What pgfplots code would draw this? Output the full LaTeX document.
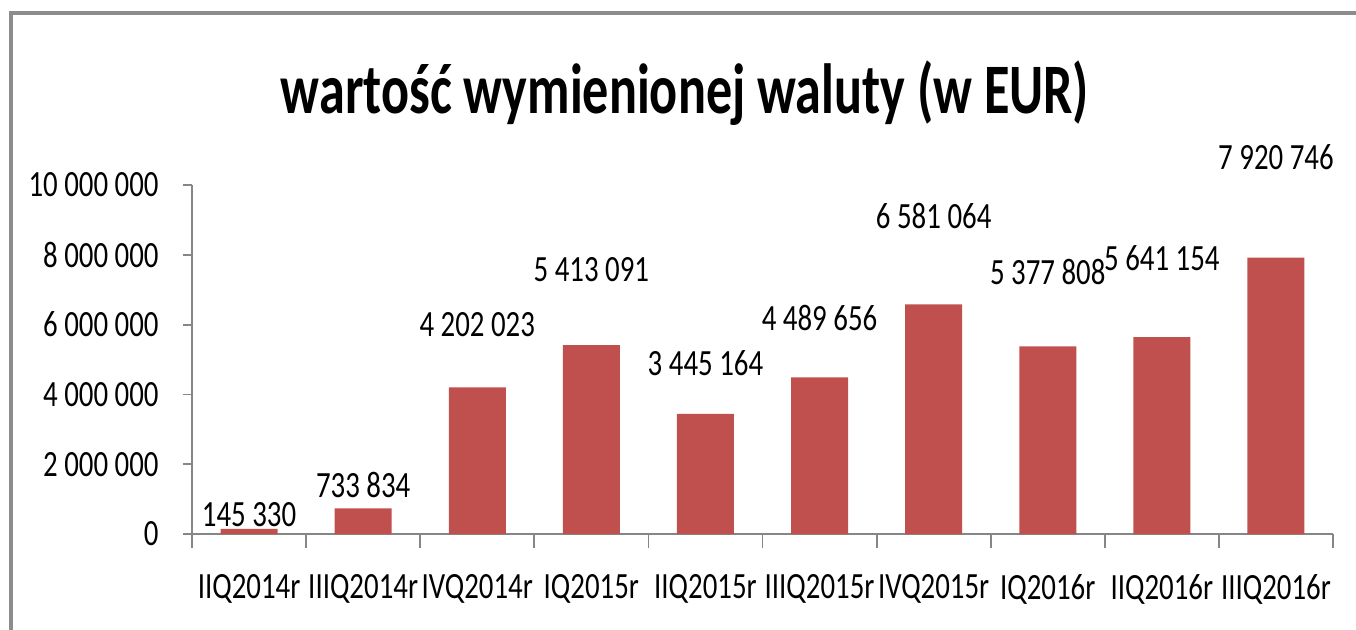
\documentclass[border=0pt]{standalone}
\usepackage{pgfplots}
\pgfplotsset{compat=1.18}
\usepackage{fontspec}
\setmainfont{Carlito}[FakeStretch=0.78]
\newfontfamily\titlefont{Carlito}[FakeStretch=0.735]
\definecolor{barred}{HTML}{C0504D}
\definecolor{axgray}{HTML}{868686}
\definecolor{framegray}{HTML}{8C8C8C}
\begin{document}
\begin{tikzpicture}
\useasboundingbox (0pt,0pt) rectangle (678pt,314.5pt);
% frame (top and left edges visible)
\draw[framegray, line width=1.6pt] (5.5pt,-10pt) -- (5.5pt,308pt) -- (690pt,308pt);
% title
\node[anchor=base, inner sep=0pt, font=\titlefont\bfseries\fontsize{35.5pt}{40pt}\selectfont] at (342.5pt,258pt) {wartość wymienionej waluty (w EUR)};
\begin{axis}[
  at={(96pt,47.5pt)}, anchor=south west,
  scale only axis, width=570.5pt, height=174.5pt,
  xmin=-0.5, xmax=9.5, ymin=0, ymax=10000000,
  axis x line=bottom, axis y line=left,
  axis line style={draw=axgray, line width=0.9pt, -},
  tick style={draw=axgray, line width=0.9pt},
  tick align=outside,
  xtick={0,...,9},
  xticklabels={IIQ2014r,IIIQ2014r,IVQ2014r,IQ2015r,IIQ2015r,IIIQ2015r,IVQ2015r,IQ2016r,IIQ2016r,IIIQ2016r},
  major x tick style={draw=none},
  minor xtick={-0.5,0.5,...,9.5},
  minor tick length=7pt,
  ytick={0,2000000,4000000,6000000,8000000,10000000},
  yticklabels={0,2 000 000,4 000 000,6 000 000,8 000 000,10 000 000},
  major tick length=4.5pt,
  scaled ticks=false,
  yticklabel style={font=\fontsize{18.5pt}{20pt}\selectfont, anchor=east, inner sep=0pt, xshift=-12pt},
  xticklabel style={font=\fontsize{18.5pt}{20pt}\selectfont, anchor=center, inner sep=0pt, yshift=-23pt},
  clip=false,
]
\addplot[ybar, bar width=28.5pt, fill=barred, draw=none, bar shift=0pt] table[col sep=comma] {
x,y
0,145330
1,733834
2,4202023
3,5413091
4,3445164
5,4489656
6,6581064
7,5377808
8,5641154
9,7920746
};
\addplot[draw=none, mark=none, nodes near coords, point meta=explicit symbolic,
  every node near coord/.append style={anchor=center, inner sep=0pt, text=black, font=\fontsize{18.5pt}{20pt}\selectfont}]
  table[col sep=comma, meta=lbl] {
x,y,lbl
0,544000,145 330
1,1404000,733 834
2,5989000,4 202 023
3,7564000,5 413 091
4,4900000,3 445 164
5,6189000,4 489 656
6,9112000,6 581 064
7,7507000,5 377 808
8,7908000,5 641 154
9,10802000,7 920 746
};
\end{axis}
\end{tikzpicture}
\end{document}
